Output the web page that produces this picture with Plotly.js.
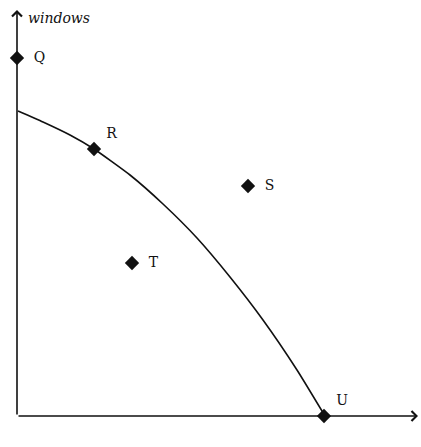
<!DOCTYPE html>
<html>
<head>
<meta charset="utf-8">
<script src="https://cdn.plot.ly/plotly-3.0.1.min.js"></script>
<style>
  html, body { margin: 0; padding: 0; background: #fff; }
  #chart { width: 421px; height: 447px; }
</style>
</head>
<body>
<div id="chart"></div>
<script>
// Production possibilities frontier: windows vs doors
const frontierDoors   = [1, 26, 53, 77, 113, 146, 180, 213, 246, 280, 308];
const frontierWindows = [305, 294, 281, 267, 241, 212, 178, 139, 96, 46, 0];

const pointLabels  = ['Q', 'R', 'S', 'T', 'U'];
const pointDoors   = [0, 77, 231, 115, 307];
const pointWindows = [358, 267, 230, 153, 0];
const labelPlacement = ['middle right', 'top right', 'middle right', 'middle right', 'top right'];
const labelPadding   = ['  ', ' ', '  ', '  ', ' '];

const xMax = 401;
const yMax = 406;

const ink = '#111';
const serif = 'DejaVu Serif, Liberation Serif, serif';

const frontier = {
  x: frontierDoors,
  y: frontierWindows,
  mode: 'lines',
  line: { color: ink, width: 1.6, shape: 'spline', smoothing: 0.5 },
  hoverinfo: 'skip'
};

const points = {
  x: pointDoors,
  y: pointWindows,
  mode: 'markers+text',
  text: pointLabels.map((s, i) => labelPadding[i] + s),
  textposition: labelPlacement,
  textfont: { family: serif, size: 14, color: ink },
  marker: { symbol: 'diamond', size: 11, color: ink },
  cliponaxis: false,
  hoverinfo: 'skip'
};

const axisArrow = (x, y) => ({
  x: x, y: y, ax: 0, ay: 0,
  xref: 'x', yref: 'y', axref: 'x', ayref: 'y',
  text: '', showarrow: true,
  arrowhead: 4, arrowsize: 1.2, arrowwidth: 1.6, arrowcolor: ink,
  standoff: 0, startstandoff: 0
});

const layout = {
  width: 421,
  height: 447,
  margin: { l: 17, r: 3, t: 10, b: 31, pad: 0 },
  paper_bgcolor: '#fff',
  plot_bgcolor: '#fff',
  showlegend: false,
  xaxis: { range: [0, xMax], visible: false, fixedrange: true },
  yaxis: { range: [0, yMax], visible: false, fixedrange: true },
  annotations: [
    axisArrow(xMax, 0),
    axisArrow(0, yMax),
    {
      x: 9, y: yMax - 8, xref: 'x', yref: 'y',
      text: '<i>windows</i>', showarrow: false,
      xanchor: 'left', yanchor: 'middle',
      font: { family: serif, size: 14, color: ink }
    },
    {
      x: xMax + 4, y: -22, xref: 'x', yref: 'y',
      text: '<i>doors</i>', showarrow: false,
      xanchor: 'right', yanchor: 'middle',
      font: { family: serif, size: 14, color: ink }
    }
  ]
};

Plotly.newPlot('chart', [frontier, points], layout, { staticPlot: true, displayModeBar: false });
</script>
</body>
</html>
